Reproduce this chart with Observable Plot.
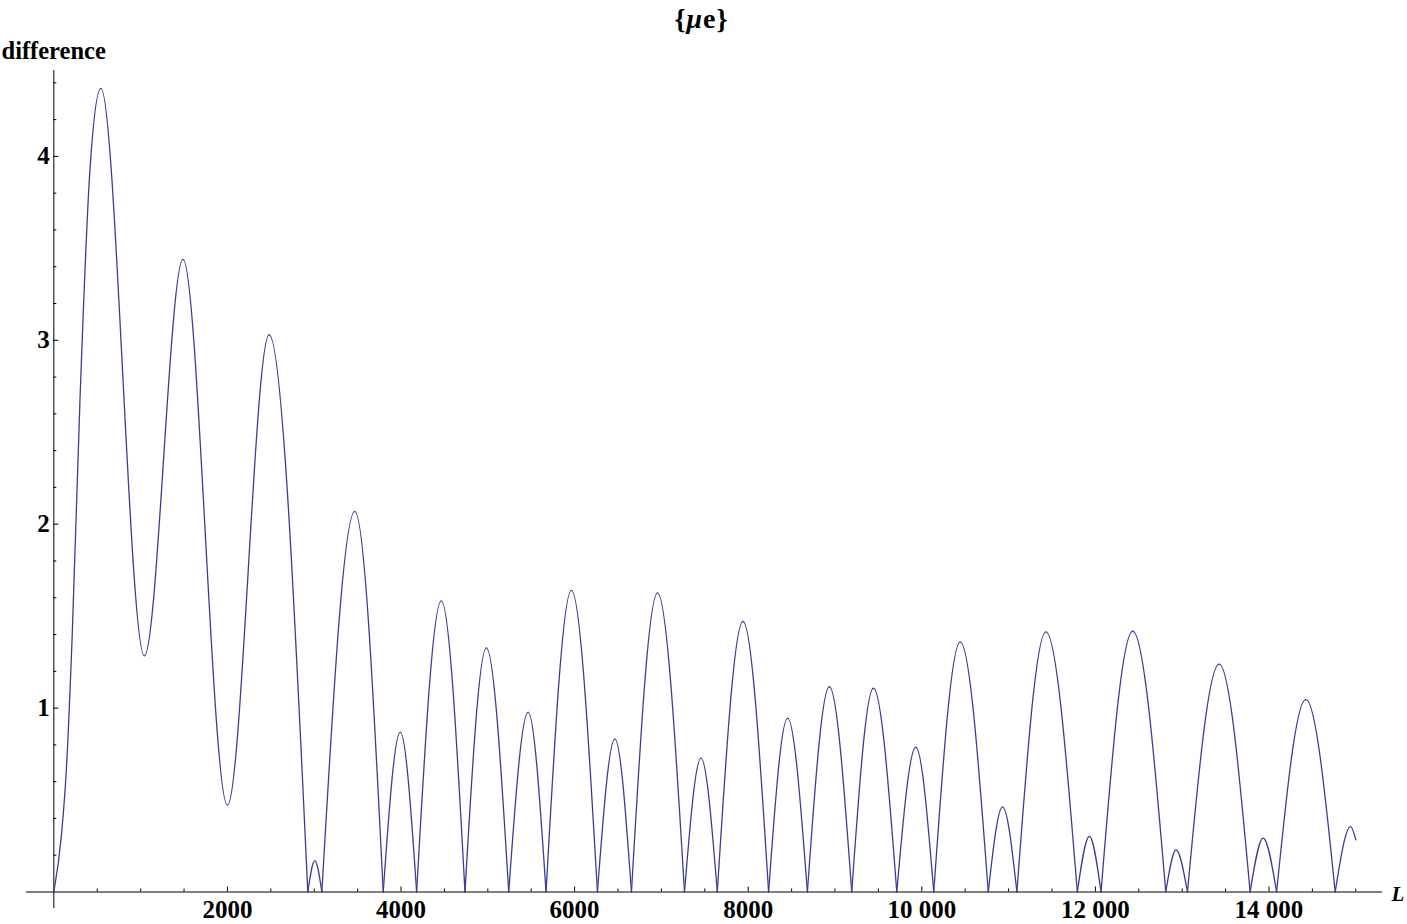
<!DOCTYPE html>
<html>
<head>
<meta charset="utf-8">
<script src="https://cdn.jsdelivr.net/npm/d3@7"></script>
<script src="https://cdn.jsdelivr.net/npm/@observablehq/plot@0.6"></script>
<style>
  html, body { margin: 0; padding: 0; background: #ffffff; }
  #wrap { position: relative; width: 1407px; height: 924px; }
  #title { position: absolute; left: -2px; top: 5px; width: 1407px; text-align: center;
           font: bold 28px/28px "Liberation Serif", "Times New Roman", serif; color: #000; letter-spacing: 1px; }
  #title i { font-style: italic; }
</style>
</head>
<body>
<div id="wrap">
  <div id="title">{<i>μ</i>e}</div>
</div>
<script>
// L values (x) and the difference
const lengthL = [0, 89, 146, 212, 300, 415, 542, 1043, 1488, 2000, 2480, 2926, 3007, 3088, 3468, 3795, 3991, 4180, 4464, 4737,
  4983, 5241, 5464, 5671, 5963, 6263, 6464, 6655, 6955, 7266, 7456, 7644, 7940, 8235, 8454, 8682, 8935, 9193, 9443, 9712,
  9931, 10138, 10443, 10766, 10931, 11096, 11430, 11792, 11931, 12065, 12430, 12811, 12930, 13061, 13426, 13783, 13933,
  14088, 14425, 14763, 14941, 15000];
const difference = [0, 0.316, 0.68, 1.40, 2.66, 3.92, 4.37, 1.284, 3.44, 0.472, 3.03, 0, 0.171, 0, 2.07, 0, 0.869, 0, 1.583, 0,
  1.328, 0, 0.978, 0, 1.640, 0, 0.833, 0, 1.627, 0, 0.728, 0, 1.471, 0, 0.945, 0, 1.116, 0, 1.108, 0,
  0.787, 0, 1.360, 0, 0.463, 0, 1.415, 0, 0.303, 0, 1.418, 0, 0.229, 0, 1.239, 0, 0.293,
  0, 1.047, 0, 0.355, 0.284];

// axis ticks
const xMajor = [2000, 4000, 6000, 8000, 10000, 12000, 14000];
const xMajorLabels = ["2000", "4000", "6000", "8000", "10 000", "12 000", "14 000"];
const xMinor = [500, 1000, 1500, 2500, 3000, 3500, 4500, 5000, 5500, 6500, 7000, 7500, 8500, 9000, 9500,
  10500, 11000, 11500, 12500, 13000, 13500, 14500, 15000];
const yMajor = [1, 2, 3, 4];
const yMajorLabels = ["1", "2", "3", "4"];
const yMinor = [0.2, 0.4, 0.6, 0.8, 1.2, 1.4, 1.6, 1.8, 2.2, 2.4, 2.6, 2.8, 3.2, 3.4, 3.6, 3.8, 4.2, 4.4];

// split the curve into arches at each zero so cusps stay sharp
const rows = [];
let seg = 0;
lengthL.forEach((x, i) => {
  const y = difference[i];
  rows.push({L: x, d: y, seg});
  if (y === 0 && i > 0 && i < lengthL.length - 1) {
    seg++;
    rows.push({L: x, d: y, seg});
  }
});

const font = "Liberation Serif, Times New Roman, serif";
const chart = Plot.plot({
  width: 1407,
  height: 924,
  marginLeft: 26,
  marginRight: 25,
  marginTop: 70,
  marginBottom: 16,
  style: {fontFamily: font, background: "transparent", color: "black", overflow: "visible"},
  x: {domain: [-315, 15308], axis: null},
  y: {domain: [-0.0897, 4.467], axis: null},
  marks: [
    Plot.ruleY([0], {stroke: "black", strokeWidth: 1}),
    Plot.ruleX([0], {stroke: "black", strokeWidth: 1}),
    Plot.ruleX(xMajor, {x: d => d, y1: d => 0, y2: d => 0, insetTop: -5, stroke: "black"}),
    Plot.ruleX(xMinor, {x: d => d, y1: d => 0, y2: d => 0, insetTop: -3, stroke: "black"}),
    Plot.ruleY(yMajor, {y: d => d, x1: d => 0, x2: d => 0, insetRight: -5, stroke: "black"}),
    Plot.ruleY(yMinor, {y: d => d, x1: d => 0, x2: d => 0, insetRight: -3, stroke: "black"}),
    Plot.text(xMajor, {x: d => d, y: d => 0, text: (d, i) => xMajorLabels[i], dy: 18,
      fontSize: 25, fontWeight: "bold", fill: "black"}),
    Plot.text(yMajor, {x: d => 0, y: d => d, text: (d, i) => yMajorLabels[i], dx: -4, textAnchor: "end",
      fontSize: 25, fontWeight: "bold", fill: "black"}),
    Plot.text(["difference"], {frameAnchor: "top-left", text: d => d, dx: -25, dy: -12, textAnchor: "start",
      lineAnchor: "bottom", fontSize: 24.5, fontWeight: "bold", fill: "black"}),
    Plot.text(["L"], {frameAnchor: "right", y: d => 0, text: d => d, dx: 9, dy: 8.5, textAnchor: "start",
      lineAnchor: "bottom", fontSize: 21, fontWeight: "bold", fontStyle: "italic", fill: "black"}),
    Plot.line(rows, {x: "L", y: "d", z: "seg", curve: "monotone-x", stroke: "#3d3d99", strokeWidth: 1.3})
  ]
});
chart.style.position = "absolute";
chart.style.left = "0px";
chart.style.top = "0px";
document.getElementById("wrap").appendChild(chart);
</script>
</body>
</html>
